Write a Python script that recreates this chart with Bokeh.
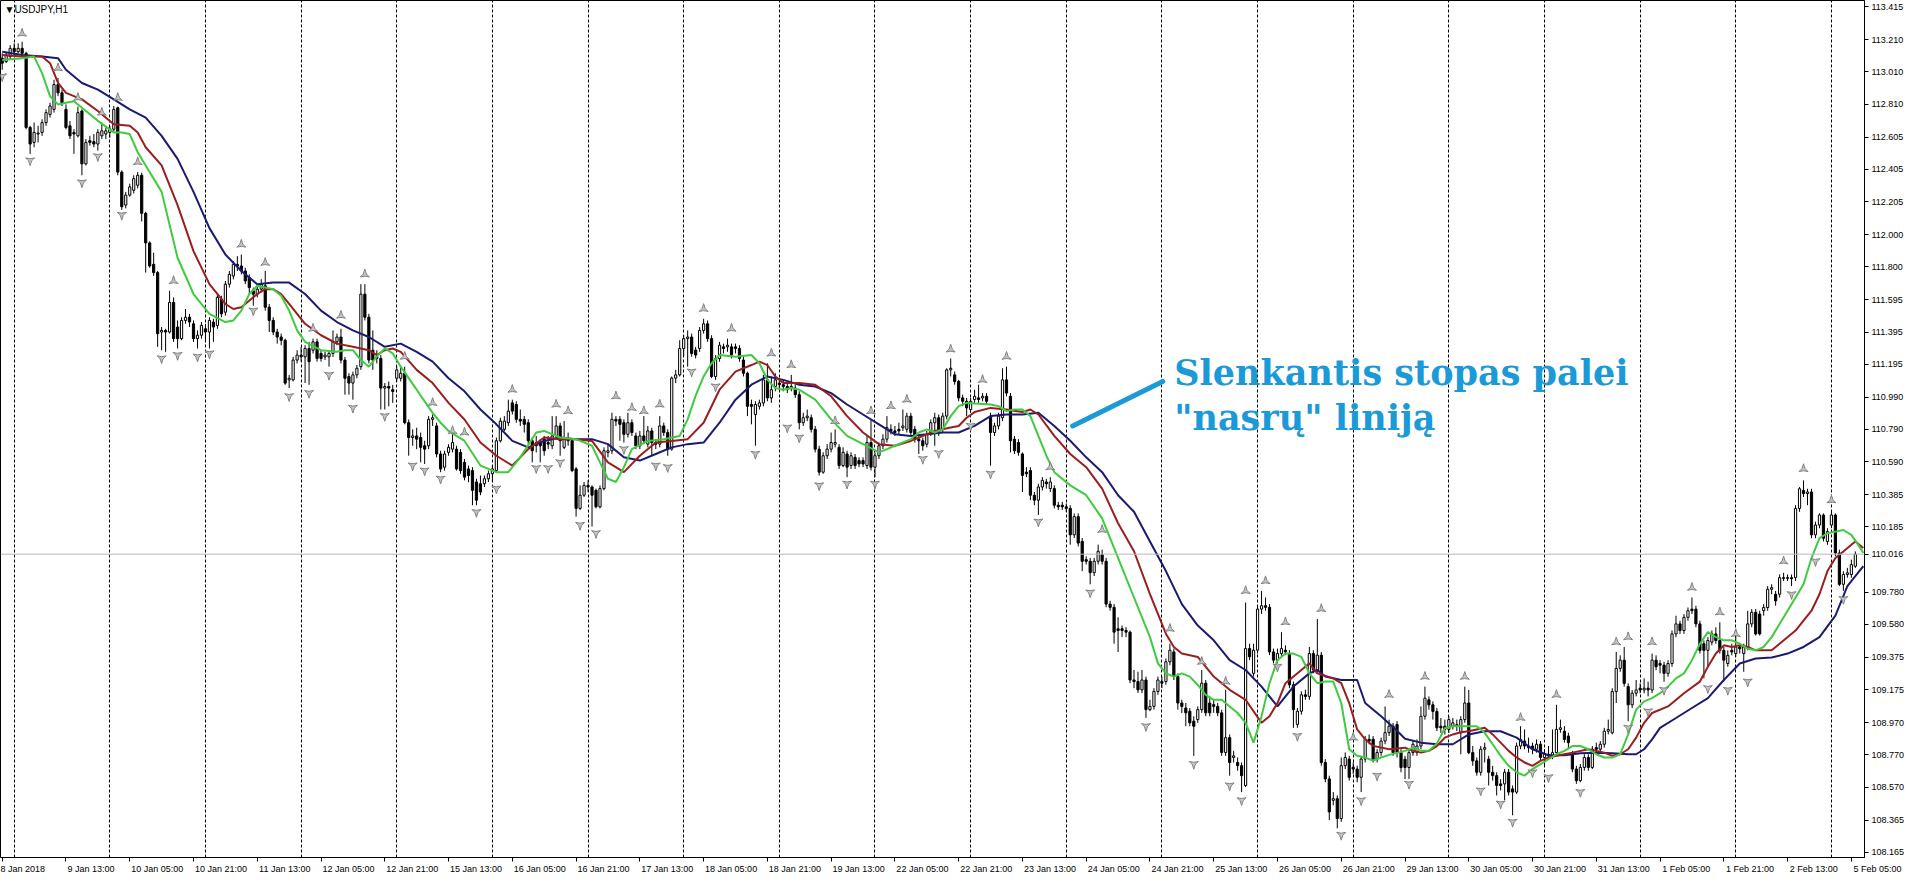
import numpy as np
from bokeh.plotting import figure
from bokeh.models import Range1d, FixedTicker, Label, Span, PrintfTickFormatter, Arrow
from bokeh.embed import file_html
from bokeh.resources import INLINE

# ---------------- data (USDJPY H1, bar 0 = 8 Jan 2018 21:00) ----------------
opens = [
113.095,113.074,113.105,113.156,113.135,113.156,113.125,112.665,112.572,112.624,
112.634,112.695,112.746,112.777,112.931,112.880,112.777,112.675,112.634,112.613,
112.767,112.439,112.583,112.577,112.562,112.613,112.624,112.634,112.654,112.787,
112.388,112.183,112.245,112.275,112.306,112.368,112.132,111.948,111.815,111.764,
111.395,111.405,111.395,111.579,111.426,111.354,111.467,111.487,111.446,111.354,
111.375,111.415,111.395,111.457,111.436,111.600,111.518,111.692,111.743,111.815,
111.805,111.774,111.733,111.651,111.630,111.661,111.682,111.549,111.467,111.395,
111.364,111.344,111.098,111.098,111.221,111.252,111.241,111.293,111.282,111.334,
111.262,111.241,111.241,111.262,111.334,111.364,111.221,111.119,111.078,111.129,
111.180,111.630,111.487,111.282,111.241,111.231,111.047,111.057,111.037,111.108,
111.108,111.139,110.832,110.740,110.750,110.740,110.689,110.689,110.853,110.812,
110.638,110.556,110.648,110.668,110.668,110.648,110.586,110.545,110.535,110.464,
110.453,110.453,110.484,110.515,110.535,110.720,110.791,110.832,110.955,110.945,
110.853,110.853,110.832,110.720,110.689,110.709,110.730,110.709,110.689,110.750,
110.812,110.679,110.730,110.720,110.545,110.300,110.382,110.443,110.433,110.412,
110.310,110.423,110.648,110.658,110.853,110.853,110.832,110.760,110.832,110.750,
110.689,110.750,110.699,110.781,110.709,110.699,110.812,110.771,110.668,111.109,
111.129,111.293,111.354,111.364,111.283,111.293,111.405,111.446,111.354,111.119,
111.231,111.303,111.303,111.303,111.303,111.293,111.221,111.139,110.945,110.883,
110.934,110.955,111.098,110.986,111.057,111.078,111.068,111.057,111.057,111.047,
111.006,110.832,110.863,110.863,110.791,110.668,110.525,110.627,110.668,110.699,
110.679,110.566,110.638,110.566,110.617,110.597,110.597,110.566,110.709,110.556,
110.627,110.689,110.730,110.791,110.781,110.791,110.801,110.791,110.873,110.791,
110.730,110.720,110.699,110.771,110.832,110.863,110.791,110.873,111.160,111.129,
111.088,110.986,110.965,110.914,110.976,110.986,110.986,110.996,110.873,110.771,
110.812,110.863,111.098,110.996,110.730,110.709,110.638,110.525,110.535,110.382,
110.351,110.433,110.464,110.423,110.423,110.320,110.320,110.310,110.300,110.136,
110.249,110.095,109.982,109.972,109.901,109.972,110.013,109.972,109.706,109.686,
109.553,109.553,109.542,109.532,109.235,109.225,109.174,109.235,109.051,109.071,
109.164,109.225,109.225,109.348,109.409,109.256,109.092,109.061,109.041,108.979,
108.989,109.051,109.215,109.092,109.082,109.071,109.031,108.785,108.877,108.754,
108.723,108.703,108.580,109.430,109.276,109.420,109.675,109.696,109.686,109.409,
109.358,109.399,109.420,109.399,109.205,108.959,109.041,109.143,109.133,109.399,
109.297,109.389,108.723,108.621,108.488,108.498,108.375,108.703,108.744,108.693,
108.682,108.631,108.744,108.867,108.867,108.744,108.785,108.856,108.908,108.948,
108.958,108.784,108.743,108.692,108.784,108.784,108.825,109.010,109.112,109.081,
109.040,108.948,108.948,108.928,108.948,108.948,108.907,108.989,109.092,108.784,
108.733,108.662,108.805,108.743,108.662,108.641,108.590,108.590,108.662,108.559,
108.539,108.825,108.856,108.825,108.825,108.805,108.836,108.754,108.774,108.764,
108.784,108.928,108.917,108.887,108.774,108.682,108.610,108.692,108.754,108.692,
108.815,108.805,108.836,108.917,108.907,109.163,109.307,109.358,109.194,109.081,
109.153,109.184,109.173,109.184,109.173,109.358,109.337,109.327,109.276,109.337,
109.521,109.583,109.542,109.624,109.675,109.675,109.583,109.460,109.419,109.470,
109.521,109.480,109.419,109.337,109.419,109.399,109.440,109.399,109.440,109.583,
109.655,109.644,109.665,109.685,109.798,109.767,109.767,109.870,109.870,109.870,
109.870,110.300,110.412,110.392,110.402,110.136,110.197,110.259,110.095,110.197,
110.259,110.023,109.829,109.890,109.890,109.941]

highs = [
113.125,113.135,113.176,113.187,113.187,113.197,113.135,112.675,112.695,112.675,
112.716,112.777,112.818,112.961,112.972,112.900,112.808,112.705,112.654,112.794,
112.777,112.593,112.613,112.624,112.654,112.695,112.665,112.675,112.798,112.794,
112.398,112.265,112.316,112.368,112.388,112.384,112.142,111.958,111.887,111.774,
111.426,111.415,111.651,111.610,111.467,111.487,111.538,111.508,111.467,111.405,
111.457,111.446,111.487,111.477,111.630,111.620,111.712,111.774,111.835,111.866,
111.876,111.794,111.753,111.671,111.692,111.723,111.774,111.569,111.487,111.415,
111.385,111.354,111.129,111.241,111.282,111.303,111.313,111.334,111.354,111.354,
111.282,111.272,111.282,111.405,111.385,111.415,111.241,111.139,111.149,111.190,
111.692,111.692,111.508,111.405,111.282,111.252,111.078,111.088,111.067,111.180,
111.180,111.180,110.852,110.791,110.801,110.771,110.720,110.873,110.883,110.832,
110.658,110.658,110.699,110.771,110.689,110.668,110.607,110.566,110.556,110.484,
110.504,110.504,110.535,110.566,110.740,110.863,110.873,110.975,110.975,110.965,
110.914,110.873,110.853,110.740,110.750,110.730,110.750,110.750,110.873,110.873,
110.832,110.842,110.771,110.730,110.556,110.443,110.464,110.474,110.443,110.423,
110.443,110.679,110.699,110.894,110.873,110.873,110.853,110.894,110.853,110.771,
110.781,110.873,110.812,110.801,110.730,110.873,110.832,110.791,111.119,111.160,
111.344,111.375,111.405,111.385,111.303,111.426,111.477,111.467,111.375,111.252,
111.334,111.323,111.354,111.323,111.323,111.313,111.242,111.149,110.975,110.965,
110.975,111.129,111.201,111.119,111.139,111.109,111.098,111.088,111.129,111.068,
111.027,110.894,110.914,110.883,110.812,110.689,110.648,110.699,110.771,110.791,
110.699,110.679,110.658,110.648,110.638,110.617,110.617,110.750,110.853,110.648,
110.709,110.760,110.873,110.822,110.812,110.832,110.914,110.894,110.894,110.812,
110.750,110.740,110.781,110.853,110.894,110.883,110.894,111.170,111.231,111.150,
111.098,111.006,110.986,110.986,111.037,111.068,111.016,111.016,110.894,110.832,
110.894,111.170,111.180,111.016,110.750,110.730,110.648,110.556,110.556,110.402,
110.453,110.494,110.484,110.494,110.443,110.341,110.341,110.331,110.320,110.269,
110.269,110.116,110.003,109.993,109.993,110.075,110.044,109.993,109.727,109.706,
109.624,109.573,109.563,109.542,109.297,109.286,109.297,109.256,109.112,109.184,
109.256,109.256,109.368,109.460,109.430,109.276,109.112,109.092,109.061,109.010,
109.071,109.297,109.235,109.133,109.112,109.092,109.051,109.174,108.897,108.795,
108.754,108.723,109.716,109.460,109.460,109.696,109.788,109.747,109.706,109.430,
109.430,109.532,109.450,109.420,109.225,109.061,109.164,109.174,109.440,109.420,
109.614,109.409,108.744,108.641,108.539,108.518,108.754,108.785,108.764,108.723,
108.703,108.764,108.887,108.897,108.887,108.805,108.877,109.071,108.989,108.969,
108.979,108.805,108.764,108.805,108.856,108.866,109.071,109.194,109.133,109.102,
109.061,108.999,108.989,109.010,108.999,108.989,109.010,109.194,109.173,108.825,
108.754,108.825,108.846,108.764,108.702,108.662,108.620,108.682,108.682,108.580,
108.846,108.948,108.928,108.877,108.846,108.866,108.856,108.805,108.825,108.928,
109.081,108.989,108.948,108.907,108.795,108.702,108.713,108.774,108.774,108.825,
108.846,108.856,108.938,108.989,109.184,109.409,109.388,109.440,109.214,109.173,
109.235,109.214,109.245,109.225,109.399,109.388,109.358,109.348,109.358,109.542,
109.634,109.603,109.644,109.685,109.747,109.696,109.603,109.480,109.501,109.542,
109.562,109.593,109.440,109.419,109.460,109.542,109.460,109.460,109.665,109.675,
109.675,109.665,109.706,109.818,109.829,109.788,109.890,109.900,109.890,109.890,
110.320,110.433,110.474,110.422,110.422,110.218,110.269,110.269,110.177,110.279,
110.269,110.044,109.910,109.931,109.982,110.033]

lows = [
113.023,113.064,113.084,113.115,113.125,113.105,112.654,112.501,112.542,112.572,
112.613,112.675,112.726,112.757,112.859,112.798,112.654,112.593,112.501,112.603,
112.368,112.429,112.552,112.542,112.521,112.593,112.593,112.603,112.634,112.368,
112.153,112.163,112.235,112.255,112.286,112.081,111.764,111.794,111.743,111.303,
111.282,111.272,111.385,111.334,111.293,111.344,111.446,111.426,111.334,111.293,
111.354,111.334,111.293,111.334,111.415,111.487,111.497,111.671,111.722,111.774,
111.753,111.692,111.630,111.559,111.610,111.641,111.528,111.395,111.375,111.323,
111.313,111.067,111.047,111.088,111.200,111.211,111.078,111.067,111.262,111.211,
111.211,111.221,111.180,111.241,111.313,111.200,111.006,111.006,110.975,111.108,
111.160,111.467,111.200,111.160,111.200,110.914,110.914,110.934,110.955,111.088,
111.088,110.822,110.627,110.689,110.668,110.586,110.576,110.668,110.812,110.617,
110.525,110.535,110.627,110.648,110.535,110.515,110.474,110.463,110.320,110.320,
110.382,110.433,110.464,110.464,110.525,110.709,110.781,110.812,110.883,110.832,
110.812,110.771,110.699,110.586,110.648,110.586,110.627,110.668,110.668,110.730,
110.627,110.668,110.689,110.525,110.249,110.290,110.371,110.402,110.187,110.300,
110.300,110.412,110.617,110.638,110.812,110.720,110.709,110.740,110.750,110.668,
110.668,110.699,110.679,110.627,110.668,110.679,110.750,110.627,110.658,111.078,
111.119,111.242,111.180,111.242,111.231,111.272,111.385,111.334,111.109,111.098,
111.211,111.262,111.272,111.231,111.262,111.211,111.119,110.873,110.822,110.689,
110.914,110.934,110.965,110.955,111.027,111.037,111.027,111.016,111.027,110.986,
110.791,110.812,110.842,110.771,110.648,110.504,110.515,110.607,110.648,110.679,
110.545,110.556,110.494,110.545,110.545,110.556,110.556,110.545,110.535,110.494,
110.607,110.668,110.709,110.760,110.750,110.760,110.781,110.771,110.750,110.709,
110.638,110.658,110.679,110.750,110.689,110.750,110.771,110.853,111.119,111.068,
110.965,110.935,110.873,110.894,110.955,110.955,110.965,110.945,110.566,110.750,
110.791,110.842,110.996,110.648,110.638,110.627,110.402,110.494,110.351,110.320,
110.259,110.412,110.423,110.402,110.300,110.290,110.290,110.279,110.075,110.116,
110.064,109.911,109.952,109.829,109.880,109.952,109.952,109.686,109.665,109.460,
109.409,109.501,109.501,109.215,109.184,109.154,109.154,109.000,109.041,109.051,
109.143,109.184,109.205,109.327,109.235,109.051,109.030,108.948,108.948,108.764,
108.969,109.031,109.010,109.010,109.031,109.010,108.764,108.764,108.641,108.723,
108.672,108.539,108.570,109.358,109.256,109.399,109.645,109.665,109.389,109.338,
109.338,109.379,109.389,109.184,108.938,108.938,109.020,109.112,109.112,109.276,
109.276,108.703,108.600,108.365,108.457,108.314,108.355,108.682,108.611,108.652,
108.600,108.539,108.723,108.836,108.723,108.723,108.764,108.836,108.887,108.764,
108.754,108.662,108.620,108.620,108.764,108.764,108.805,108.989,109.051,108.989,
108.918,108.907,108.897,108.907,108.928,108.918,108.774,108.969,108.774,108.702,
108.641,108.641,108.723,108.580,108.610,108.518,108.549,108.488,108.518,108.395,
108.528,108.805,108.805,108.784,108.774,108.784,108.733,108.702,108.743,108.743,
108.764,108.907,108.846,108.805,108.662,108.590,108.600,108.672,108.672,108.682,
108.774,108.784,108.815,108.897,108.897,109.092,109.286,109.194,108.979,109.061,
109.133,109.153,109.153,109.133,109.153,109.296,109.276,109.224,109.255,109.317,
109.501,109.521,109.521,109.603,109.644,109.562,109.399,109.245,109.317,109.450,
109.460,109.399,109.225,109.317,109.388,109.378,109.399,109.286,109.419,109.562,
109.511,109.511,109.634,109.665,109.767,109.696,109.747,109.849,109.849,109.818,
109.849,110.279,110.371,110.320,110.115,110.115,110.177,110.095,110.074,110.177,
110.003,109.818,109.788,109.870,109.870,109.931]

closes = [
113.064,113.115,113.156,113.135,113.156,113.125,112.665,112.562,112.634,112.630,
112.695,112.757,112.798,112.931,112.880,112.818,112.665,112.613,112.624,112.757,
112.439,112.572,112.572,112.562,112.634,112.644,112.644,112.654,112.777,112.388,
112.173,112.245,112.296,112.347,112.368,112.132,111.948,111.805,111.764,111.385,
111.405,111.395,111.579,111.354,111.354,111.467,111.487,111.457,111.354,111.375,
111.436,111.395,111.467,111.426,111.610,111.508,111.692,111.753,111.815,111.805,
111.774,111.712,111.671,111.630,111.661,111.692,111.549,111.467,111.395,111.364,
111.344,111.078,111.108,111.221,111.252,111.241,111.293,111.211,111.334,111.231,
111.231,111.252,111.262,111.334,111.364,111.221,111.108,111.078,111.129,111.170,
111.630,111.487,111.221,111.221,111.231,111.047,111.057,111.047,111.026,111.160,
111.139,110.832,110.740,110.750,110.730,110.679,110.668,110.853,110.863,110.638,
110.545,110.638,110.679,110.709,110.545,110.535,110.494,110.504,110.412,110.351,
110.402,110.484,110.515,110.545,110.720,110.842,110.842,110.904,110.904,110.853,
110.842,110.822,110.720,110.658,110.709,110.689,110.658,110.699,110.750,110.812,
110.720,110.730,110.720,110.535,110.300,110.382,110.443,110.433,110.382,110.310,
110.423,110.658,110.658,110.853,110.842,110.822,110.760,110.832,110.771,110.689,
110.750,110.720,110.781,110.709,110.699,110.812,110.771,110.668,111.109,111.129,
111.293,111.354,111.364,111.262,111.252,111.405,111.446,111.354,111.119,111.231,
111.313,111.293,111.313,111.252,111.293,111.231,111.139,110.934,110.934,110.945,
110.955,111.098,110.986,111.037,111.098,111.068,111.057,111.037,111.047,111.006,
110.832,110.863,110.873,110.791,110.668,110.525,110.627,110.668,110.709,110.709,
110.566,110.648,110.556,110.627,110.566,110.576,110.576,110.709,110.556,110.627,
110.689,110.730,110.801,110.781,110.771,110.781,110.812,110.873,110.771,110.730,
110.720,110.689,110.760,110.832,110.863,110.771,110.873,111.160,111.170,111.088,
110.986,110.965,110.924,110.965,110.996,110.976,110.996,110.965,110.771,110.812,
110.873,111.098,111.016,110.720,110.658,110.648,110.505,110.515,110.382,110.351,
110.433,110.474,110.453,110.464,110.320,110.310,110.310,110.300,110.136,110.249,
110.085,109.972,109.972,109.901,109.972,110.034,109.972,109.706,109.686,109.532,
109.542,109.542,109.532,109.235,109.225,109.174,109.235,109.051,109.071,109.164,
109.235,109.215,109.348,109.420,109.256,109.092,109.071,109.031,108.969,108.948,
109.051,109.215,109.031,109.031,109.071,109.031,108.785,108.877,108.723,108.764,
108.703,108.641,109.430,109.379,109.420,109.675,109.696,109.686,109.409,109.358,
109.399,109.430,109.409,109.205,109.051,109.041,109.143,109.133,109.399,109.297,
109.389,108.723,108.621,108.416,108.498,108.375,108.703,108.754,108.631,108.682,
108.631,108.744,108.867,108.856,108.744,108.785,108.856,108.908,108.948,108.784,
108.784,108.692,108.692,108.784,108.836,108.825,109.010,109.122,109.081,109.040,
108.938,108.938,108.928,108.989,108.969,108.958,108.989,109.092,108.784,108.733,
108.662,108.805,108.815,108.662,108.641,108.580,108.580,108.662,108.539,108.539,
108.825,108.866,108.825,108.815,108.805,108.836,108.754,108.774,108.764,108.784,
108.928,108.938,108.866,108.846,108.682,108.610,108.692,108.754,108.692,108.805,
108.805,108.836,108.917,108.928,109.163,109.307,109.358,109.214,109.081,109.153,
109.173,109.173,109.184,109.173,109.358,109.317,109.327,109.276,109.337,109.521,
109.583,109.542,109.624,109.665,109.665,109.583,109.419,109.419,109.480,109.521,
109.480,109.419,109.358,109.388,109.409,109.440,109.429,109.440,109.583,109.655,
109.521,109.521,109.685,109.798,109.808,109.726,109.870,109.866,109.866,109.864,
110.300,110.422,110.392,110.402,110.136,110.197,110.259,110.115,110.156,110.259,
110.023,109.829,109.890,109.900,109.951,110.016]

# Alligator lines: (bar index, price)
jaw_points = [
(0,113.135),(5,113.115),(10,113.105),(14,113.095),(16,113.023),(20,112.941),(24,112.900),(28,112.839),
(32,112.777),(36,112.726),(40,112.613),(44,112.470),(48,112.265),(52,112.040),(56,111.876),(60,111.774),
(64,111.692),(68,111.702),(72,111.702),(76,111.631),(80,111.528),(84,111.457),(88,111.405),(92,111.364),
(96,111.303),(100,111.323),(104,111.272),(108,111.211),(112,111.108),(116,111.027),(120,110.914),
(124,110.822),(128,110.719),(132,110.679),(136,110.719),(140,110.740),(144,110.730),(148,110.730),
(152,110.699),(156,110.617),(160,110.597),(164,110.638),(168,110.679),(172,110.699),(176,110.709),
(180,110.832),(184,110.975),(188,111.068),(192,111.119),(196,111.098),(200,111.068),(204,111.057),
(208,111.016),(212,110.945),(216,110.883),(220,110.822),(224,110.760),(228,110.750),(232,110.760),
(236,110.771),(240,110.771),(244,110.812),(248,110.873),(252,110.883),(256,110.883),(260,110.894),
(264,110.812),(268,110.720),(272,110.617),(276,110.525),(280,110.382),(284,110.279),(288,110.095),
(292,109.911),(296,109.706),(300,109.573),(304,109.481),(308,109.358),(312,109.297),(316,109.194),
(320,109.071),(324,109.194),(328,109.276),(330,109.297),(332,109.256),(336,109.235),(340,109.235),
(342,109.092),(346,109.010),(350,108.920),(352,108.870),(356,108.846),(360,108.836),(364,108.836),
(368,108.897),(372,108.917),(376,108.917),(380,108.877),(384,108.805),(388,108.768),(392,108.768),
(396,108.780),(400,108.784),(404,108.780),(408,108.774),(410,108.774),(412,108.805),(414,108.866),
(416,108.938),(420,108.999),(424,109.061),(428,109.122),(432,109.235),(436,109.337),(440,109.368),
(444,109.374),(448,109.399),(452,109.440),(456,109.501),(460,109.634),(463,109.818),(466,109.911),
(467,109.941)]

teeth_points = [
(0,113.115),(5,113.105),(10,113.105),(12,113.064),(14,112.941),(16,112.880),(18,112.859),(20,112.839),
(24,112.767),(28,112.685),(32,112.675),(34,112.634),(36,112.542),(40,112.429),(44,112.183),(48,111.897),
(52,111.692),(56,111.569),(58,111.538),(60,111.549),(64,111.631),(66,111.661),(68,111.661),(70,111.631),
(72,111.569),(76,111.446),(80,111.375),(84,111.323),(88,111.303),(92,111.282),(94,111.252),(96,111.282),
(98,111.293),(100,111.272),(104,111.160),(108,111.078),(112,110.955),(116,110.852),(120,110.709),
(124,110.627),(128,110.566),(132,110.668),(136,110.740),(140,110.730),(144,110.730),(148,110.719),
(152,110.586),(156,110.525),(160,110.627),(164,110.709),(168,110.719),(172,110.730),(176,110.832),
(180,111.037),(184,111.149),(188,111.190),(190,111.211),(192,111.190),(194,111.119),(196,111.078),
(200,111.078),(204,111.068),(208,110.996),(212,110.873),(216,110.771),(220,110.699),(224,110.689),
(228,110.719),(232,110.760),(234,110.781),(238,110.802),(240,110.812),(242,110.863),(244,110.898),
(248,110.924),(252,110.914),(256,110.898),(258,110.914),(260,110.883),(264,110.750),(268,110.638),
(272,110.556),(276,110.423),(280,110.208),(284,110.034),(288,109.768),(292,109.522),(294,109.440),
(296,109.399),(300,109.378),(304,109.256),(308,109.174),(312,109.112),(316,108.969),(318,109.010),
(320,109.092),(322,109.215),(326,109.297),(328,109.338),(330,109.276),(334,109.245),(336,109.215),
(338,109.092),(340,108.928),(342,108.867),(344,108.826),(348,108.805),(352,108.815),(354,108.795),
(356,108.784),(358,108.795),(360,108.825),(362,108.877),(364,108.897),(366,108.911),(368,108.917),
(370,108.928),(372,108.938),(374,108.897),(376,108.846),(378,108.795),(380,108.754),(382,108.723),
(384,108.702),(386,108.733),(388,108.754),(390,108.764),(394,108.784),(398,108.805),(400,108.795),
(402,108.784),(404,108.764),(406,108.774),(408,108.805),(410,108.877),(412,108.969),(414,109.030),
(418,109.071),(422,109.153),(426,109.225),(428,109.317),(430,109.399),(432,109.450),(434,109.440),
(436,109.450),(438,109.440),(440,109.419),(444,109.419),(446,109.460),(450,109.542),(454,109.665),
(456,109.767),(458,109.911),(460,109.992),(462,110.033),(464,110.074),(465,110.095),(467,110.054)]

lips_points = [
(0,113.084),(5,113.095),(8,113.105),(10,113.002),(12,112.859),(14,112.808),(16,112.818),(18,112.828),
(20,112.787),(24,112.706),(28,112.634),(30,112.634),(32,112.624),(34,112.511),(36,112.429),(40,112.265),
(44,111.856),(48,111.631),(52,111.508),(56,111.457),(58,111.467),(60,111.528),(62,111.631),(64,111.682),
(68,111.661),(70,111.620),(72,111.528),(74,111.405),(76,111.334),(80,111.282),(84,111.272),(86,111.282),
(88,111.282),(90,111.221),(92,111.180),(94,111.242),(96,111.293),(98,111.262),(100,111.180),(104,111.037),
(108,110.893),(110,110.832),(112,110.781),(116,110.719),(120,110.566),(124,110.525),(127,110.525),
(130,110.617),(134,110.771),(136,110.781),(140,110.740),(144,110.730),(148,110.689),(150,110.586),
(152,110.484),(154,110.464),(156,110.556),(158,110.668),(162,110.719),(166,110.730),(170,110.750),
(172,110.853),(174,111.000),(176,111.119),(178,111.201),(180,111.252),(184,111.242),(188,111.252),
(190,111.201),(192,111.098),(194,111.047),(196,111.037),(198,111.047),(200,111.037),(204,110.975),
(208,110.853),(212,110.750),(216,110.699),(220,110.648),(222,110.668),(224,110.689),(228,110.730),
(230,110.771),(232,110.791),(234,110.771),(236,110.791),(238,110.873),(240,110.935),(242,110.955),
(244,110.951),(248,110.945),(250,110.935),(252,110.904),(254,110.914),(256,110.914),(258,110.873),
(260,110.750),(262,110.627),(264,110.525),(268,110.443),(272,110.382),(276,110.238),(278,110.116),
(280,109.993),(284,109.747),(288,109.501),(290,109.338),(292,109.276),(294,109.256),(296,109.276),
(298,109.256),(300,109.204),(302,109.143),(304,109.112),(306,109.112),(308,109.071),(310,109.030),
(312,108.969),(314,108.846),(316,109.010),(318,109.215),(320,109.358),(322,109.399),(324,109.399),
(326,109.378),(328,109.276),(330,109.215),(332,109.225),(334,109.225),(336,109.092),(338,108.805),
(340,108.764),(342,108.754),(344,108.734),(346,108.754),(348,108.770),(352,108.795),(354,108.815),
(356,108.795),(358,108.795),(360,108.840),(362,108.935),(364,108.948),(366,108.948),(368,108.948),
(370,108.948),(372,108.907),(374,108.836),(376,108.764),(378,108.702),(380,108.662),(382,108.641),
(384,108.682),(386,108.713),(388,108.743),(390,108.774),(392,108.795),(394,108.825),(396,108.825),
(398,108.805),(400,108.774),(402,108.754),(404,108.754),(406,108.774),(408,108.897),(410,109.051),
(412,109.102),(414,109.122),(416,109.153),(418,109.194),(420,109.245),(422,109.276),(424,109.358),
(426,109.460),(428,109.532),(430,109.501),(432,109.481),(434,109.481),(436,109.460),(438,109.429),
(440,109.419),(442,109.440),(444,109.501),(446,109.583),(448,109.665),(450,109.747),(452,109.829),
(454,109.992),(456,110.115),(458,110.146),(460,110.156),(462,110.166),(464,110.136),(466,110.064),
(467,110.023)]

# Fractal markers (bar index, price at marker)
fractal_up_idx = [5,14,19,25,29,34,43,60,66,78,85,91,101,108,113,116,128,139,142,154,158,161,165,176,183,
                  193,198,209,218,223,227,238,246,252,263,276,293,301,307,312,317,322,331,339,348,357,367,
                  381,390,405,408,414,424,431,435,447,452,459]
fractal_up_val = [113.248,113.033,112.849,112.757,112.849,112.450,111.712,111.938,111.825,111.416,111.497,
                  111.753,111.242,110.955,110.781,110.771,111.037,110.945,110.904,110.996,110.924,110.904,
                  110.945,111.539,111.416,111.262,111.190,110.842,110.904,110.935,110.975,111.287,111.098,
                  111.242,110.556,110.167,109.553,109.348,109.225,109.788,109.849,109.594,109.676,108.877,
                  109.143,109.255,109.255,109.000,109.143,109.470,109.501,109.470,109.808,109.655,109.521,
                  109.972,110.545,110.351]
fractal_dn_idx = [0,7,20,24,30,40,44,49,52,63,72,77,82,88,96,103,106,110,119,124,134,137,140,145,149,156,
                  164,167,173,179,189,197,200,205,212,219,231,235,243,248,260,273,287,299,308,311,320,325,
                  336,341,345,353,371,376,379,384,388,396,408,413,417,428,433,438,449,455,462]
fractal_dn_val = [112.982,112.460,112.323,112.486,112.122,111.231,111.252,111.242,111.262,111.528,110.996,
                  111.016,111.129,110.924,110.873,110.566,110.535,110.484,110.277,110.423,110.550,110.550,
                  110.586,110.197,110.146,110.668,110.566,110.556,111.149,111.057,110.638,110.802,110.740,
                  110.443,110.453,110.453,110.607,110.643,110.812,110.515,110.218,109.778,108.948,108.713,
                  108.580,108.488,109.317,108.887,108.273,108.488,108.641,108.590,108.549,108.467,108.354,
                  108.661,108.631,108.539,108.938,109.040,109.173,109.184,109.173,109.225,109.767,109.972,
                  109.737]

x_tick_labels = ["8 Jan 2018","9 Jan 13:00","10 Jan 05:00","10 Jan 21:00","11 Jan 13:00","12 Jan 05:00",
                 "12 Jan 21:00","15 Jan 13:00","16 Jan 05:00","16 Jan 21:00","17 Jan 13:00","18 Jan 05:00",
                 "18 Jan 21:00","19 Jan 13:00","22 Jan 05:00","22 Jan 21:00","23 Jan 13:00","24 Jan 05:00",
                 "24 Jan 21:00","25 Jan 13:00","26 Jan 05:00","26 Jan 21:00","29 Jan 13:00","30 Jan 05:00",
                 "30 Jan 21:00","31 Jan 13:00","1 Feb 05:00","1 Feb 21:00","2 Feb 13:00","5 Feb 05:00"]
y_ticks = [113.415,113.210,113.010,112.810,112.605,112.405,112.205,112.000,111.800,111.595,111.395,
           111.195,110.990,110.790,110.590,110.385,110.185,109.985,109.780,109.580,109.375,109.175,
           108.970,108.770,108.570,108.365,108.165]
last_price = 110.016
symbol_text = "▼USDJPY,H1"
note_lines = ["Slenkantis stopas palei", "\"nasrų\" liniją"]

# ---------------- layout ----------------
FW, FH = 1864, 857
x0, x1 = -0.43, 467.3
y0, y1 = 108.133, 113.453
ppx = FW / (x1 - x0)
ppy = FH / (y1 - y0)
AX_FONT = "Liberation Sans"
AX_SIZE = 9

p = figure(frame_width=FW, frame_height=FH, x_range=Range1d(x0, x1), y_range=Range1d(y0, y1),
           output_backend="svg", toolbar_location=None, y_axis_location="right",
           min_border_left=0, min_border_top=0, min_border_right=0, min_border_bottom=0)
p.background_fill_color = "white"
p.border_fill_color = "white"
p.outline_line_color = "black"
p.outline_line_width = 1

# day separators
day_starts = [3 + 24 * k for k in range(20)]
p.xgrid.ticker = FixedTicker(ticks=day_starts)
p.xgrid.grid_line_color = "black"
p.xgrid.grid_line_dash = "3 2"
p.xgrid.grid_line_width = 1
p.ygrid.visible = False

# right price axis (the last-price tick replaces the one it hides)
shown_y = [t for t in y_ticks if abs(t - last_price) > 0.05] + [last_price]
p.yaxis.ticker = FixedTicker(ticks=shown_y)
p.yaxis.formatter = PrintfTickFormatter(format="%.3f")
p.yaxis.major_label_text_font = AX_FONT
p.yaxis.major_label_text_font_size = "%dpx" % AX_SIZE
p.yaxis.major_label_text_color = "black"
p.yaxis.major_tick_out = 4
p.yaxis.major_tick_in = 0
p.yaxis.minor_tick_line_color = None
p.yaxis.major_label_standoff = 3
p.yaxis.axis_line_color = "black"

# time axis: labels start just right of their tick (MT4 style) -> lead with no-break spaces
NBSP = "\u00a0"
ARIAL_W = {ch: 0.556 for ch in "0123456789"}
ARIAL_W.update({" ": 0.278, ":": 0.278, "J": 0.5, "F": 0.611, "a": 0.556, "n": 0.556,
                "e": 0.556, "b": 0.556})
def text_w(s):
    return sum(ARIAL_W.get(ch, 0.556) for ch in s) * AX_SIZE
space_w = 0.278 * AX_SIZE

x_ticks = [16 * k for k in range(len(x_tick_labels))]
overrides = {}
for k, (t, lab) in enumerate(zip(x_ticks, x_tick_labels)):
    # the first label sits at the left edge of the canvas and is kept inside it by Bokeh
    pad = 0 if k == 0 else int(round((text_w(lab) + 4) / space_w))
    overrides[float(t)] = NBSP * pad + lab
p.xaxis.ticker = FixedTicker(ticks=x_ticks)
p.xaxis.major_label_overrides = overrides
p.xaxis.major_label_text_font = AX_FONT
p.xaxis.major_label_text_font_size = "%dpx" % AX_SIZE
p.xaxis.major_label_text_color = "black"
p.xaxis.major_tick_out = 4
p.xaxis.major_tick_in = 0
p.xaxis.minor_tick_line_color = None
p.xaxis.axis_line_color = "black"
p.xaxis.major_label_standoff = 2

# current price line
p.add_layout(Span(location=last_price, dimension="width", line_color="#b8b8b8", line_width=1))

# candles
o = np.array(opens); h = np.array(highs); l = np.array(lows); c = np.array(closes)
idx = np.arange(len(c))
bull = c >= o
p.segment(idx, h, idx, l, line_color="black", line_width=1)
p.vbar(x=idx[bull], top=c[bull], bottom=o[bull], width=0.55, fill_color="white",
       line_color="black", line_width=1)
p.vbar(x=idx[~bull], top=o[~bull], bottom=c[~bull], width=0.55, fill_color="black",
       line_color="black", line_width=1)

# alligator
for pts, col in ((jaw_points, "#1a1a72"), (teeth_points, "#9a1e1e"), (lips_points, "#3fcb3f")):
    xs, ys = zip(*pts)
    p.line(list(xs), list(ys), line_color=col, line_width=2)

# fractals
p.scatter(fractal_up_idx, fractal_up_val, marker="triangle_pin", size=9,
          fill_color="#c4c4c4", line_color="#808080", line_width=1)
p.scatter(fractal_dn_idx, fractal_dn_val, marker="triangle_pin", size=9, angle=np.pi,
          fill_color="#c4c4c4", line_color="#808080", line_width=1)

# symbol label
p.add_layout(Label(x=x0 + 4 / ppx, y=y1 - 9 / ppy, text=symbol_text, text_align="left",
                   text_baseline="middle", text_font=AX_FONT, text_font_size="10px", text_color="black"))

# annotation
BLUE = "#1a9ad6"
p.add_layout(Arrow(end=None, x_start=268.6, y_start=110.812, x_end=291.2, y_end=111.088,
                   line_color=BLUE, line_width=5, line_cap="round"))
p.add_layout(Label(x=294.1, y=111.143, text=note_lines[0], text_font="DejaVu Serif",
                   text_font_style="bold", text_font_size="35px", text_color=BLUE,
                   text_baseline="alphabetic", text_align="left"))
p.add_layout(Label(x=294.1, y=110.864, text=note_lines[1], text_font="DejaVu Serif",
                   text_font_style="bold", text_font_size="35px", text_color=BLUE,
                   text_baseline="alphabetic", text_align="left"))

open("out.html", "w").write(file_html(p, INLINE))
